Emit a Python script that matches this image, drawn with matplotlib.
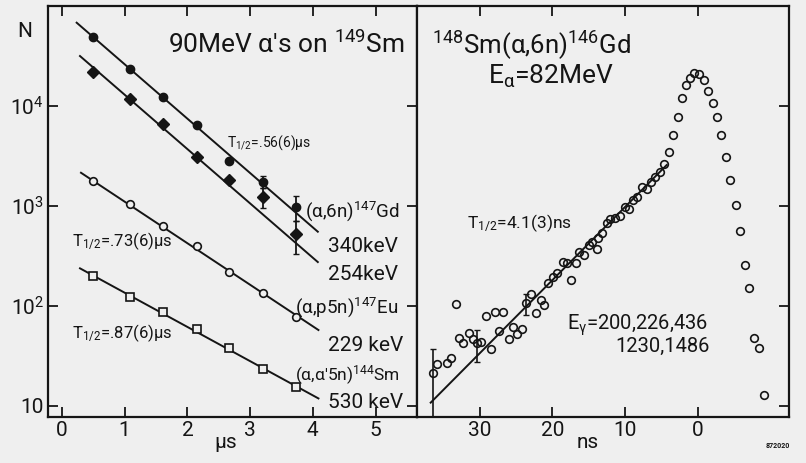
import matplotlib.pyplot as plt
from matplotlib.ticker import NullLocator

plt.rcParams['font.family'] = ['Roboto', 'DejaVu Sans']
plt.rcParams['mathtext.fontset'] = 'custom'
plt.rcParams['mathtext.rm'] = 'Roboto'
plt.rcParams['mathtext.it'] = 'Roboto'
plt.rcParams['mathtext.bf'] = 'Roboto'

W, H = 806, 463
ink = '#151515'
paper = '#efefef'

# left panel: isomer decay curves (time in microseconds)
t_us = [0.49, 1.08, 1.61, 2.15, 2.67, 3.21, 3.74]
gd340 = [49000, 23400, 12300, 6460, 2820, 1740, 985]
gd254 = [22000, 11700, 6600, 3110, 1820, 1230, 521]
eu229 = [1778, 1047, 631, 398, 220, 134, 77]
sm530 = [200, 124, 87, 59, 38, 23.6, 15.6]

# error bars on the last two points of the Gd curves
gd340_err = [234, 283]
gd254_err = [282, 190]

# fitted exponential lines (start, end)
fit340_t, fit340_n = [0.234, 4.08], [68100, 553]
fit254_t, fit254_n = [0.287, 4.08], [31600, 275]
fit229_t, fit229_n = [0.303, 4.09], [2150, 57.5]
fit530_t, fit530_n = [0.287, 4.09], [238, 11.9]

# right panel: time spectrum (ns, reversed axis)
ns = [36.36, 35.81, 34.48, 33.97, 33.28, 32.83, 32.24, 31.52, 30.91, 30.29,
      29.74, 29.12, 28.48, 27.82, 27.29, 26.72, 25.96, 25.37, 24.82, 24.15,
      23.56, 22.94, 22.29, 21.63, 21.09, 20.54, 19.88, 19.37, 18.54, 18.04,
      17.47, 16.80, 16.35, 15.66, 15.01, 14.52, 13.91, 13.80, 13.23, 12.54,
      12.09, 11.40, 10.71, 10.07, 9.48, 8.89, 8.34, 7.69, 7.05, 6.46,
      5.84, 5.22, 4.64, 4.02, 3.46, 2.79, 2.24, 1.69, 1.14, 0.51,
      -0.14, -0.82, -1.41, -2.06, -2.65, -3.20, -3.85, -4.44, -5.22, -5.81,
      -6.46, -7.05, -7.73, -8.34, -9.07]
counts = [21.5, 26.3, 27.2, 30.4, 104, 48.2, 43.0, 54.1, 47.1, 42.7,
          44.0, 79.1, 36.9, 87.5, 56.2, 87.5, 46.5, 62.1, 51.9, 58.9,
          106, 133, 84.5, 114, 102, 170, 197, 216, 275, 272,
          182, 272, 343, 326, 403, 432, 370, 481, 533, 671,
          736, 759, 794, 984, 927, 1148, 1239, 1538, 1472, 1750,
          1941, 2203, 2612, 3428, 5129, 7709, 11940, 16220, 19050, 21230,
          20890, 18070, 14220, 10640, 7709, 5129, 3112, 1820, 1016, 566,
          255, 152, 47.9, 38.0, 13.0]
err_ns = [36.36, 30.29, 23.56]
err_counts = [21.5, 42.7, 106]
err_size = [15.4, 15.0, 25]
fit_ns, fit_counts = [36.72, 4.30], [10.8, 2570]

fig = plt.figure(figsize=(W / 100, H / 100), dpi=100, facecolor=paper)
ax1 = fig.add_axes([48 / W, 46 / H, 368.7 / W, 411 / H], facecolor=paper)
ax2 = fig.add_axes([416.7 / W, 46 / H, 372.6 / W, 411 / H], facecolor=paper, sharey=ax1)

lw = 1.4
for a, b in [(fit340_t, fit340_n), (fit254_t, fit254_n), (fit229_t, fit229_n), (fit530_t, fit530_n)]:
    ax1.plot(a, b, color=ink, lw=lw)

ax1.errorbar(t_us[5:], gd340[5:], yerr=gd340_err, fmt='none', ecolor=ink, elinewidth=1.3, capsize=2.5)
ax1.errorbar(t_us[5:], gd254[5:], yerr=gd254_err, fmt='none', ecolor=ink, elinewidth=1.3, capsize=2.5)
ax1.plot(t_us, gd340, 'o', color=ink, ms=6)
ax1.plot(t_us, gd254, 'D', color=ink, ms=6)
ax1.plot(t_us, eu229, 'o', color=ink, mfc=paper, ms=5.5, mew=1.2)
ax1.plot(t_us, sm530, 's', color=ink, mfc=paper, ms=5.5, mew=1.2)

ax1.set_yscale('log')
ax1.set_ylim(7.76, 1e5)
ax1.set_xlim(-0.223, 5.657)
ax1.set_xticks([0, 1, 2, 3, 4, 5])
ax1.set_yticks([10, 100, 1000, 10000])
ax1.set_yticklabels(['10', '$10^2$', '$10^3$', '$10^4$'])
ax1.yaxis.set_minor_locator(NullLocator())
ax1.tick_params(direction='in', length=7, width=1.3, top=True, right=True,
                labelsize=15, colors=ink, pad=3)

ax2.plot(fit_ns, fit_counts, color=ink, lw=lw)
ax2.errorbar(err_ns, err_counts, yerr=err_size, fmt='none', ecolor=ink, elinewidth=1.2, capsize=2.5)
ax2.plot(ns, counts, 'o', color=ink, mfc='none', ms=5.5, mew=1.2)
ax2.set_xlim(38.64, -12.54)
ax2.set_xticks([30, 20, 10, 0])
ax2.yaxis.set_minor_locator(NullLocator())
ax2.tick_params(direction='in', length=7, width=1.3, top=True, right=True, left=False,
                labelleft=False, labelsize=15, colors=ink, pad=3)

for a in (ax1, ax2):
    for s in a.spines.values():
        s.set_linewidth(1.6)
        s.set_color(ink)


def put(x, y, s, size, ha='left', **kw):
    fig.text(x / W, 1 - y / H, s, fontsize=size, ha=ha, va='baseline', color=ink, **kw)


put(17, 37, 'N', 15)
put(168, 53, "90MeV α's on $^{149}$Sm", 19)
put(227, 147, 'T$_{1/2}$=.56(6)μs', 10)
put(305, 217, '(α,6n)$^{147}$Gd', 13.5)
put(328, 252, '340keV', 15)
put(328, 280, '254keV', 15)
put(72, 246, 'T$_{1/2}$=.73(6)μs', 12)
put(295, 313, '(α,p5n)$^{147}$Eu', 13.5)
put(328, 351, '229 keV', 15)
put(72, 338, 'T$_{1/2}$=.87(6)μs', 12)
put(295, 381, "(α,α'5n)$^{144}$Sm", 12.5)
put(328, 408, '530 keV', 15)
put(226, 448, 'μs', 15, ha='center')

put(432, 54, '$^{148}$Sm(α,6n)$^{146}$Gd', 18.5)
put(488, 84, 'E$_{α}$=82MeV', 19)
put(467, 228, 'T$_{1/2}$=4.1(3)ns', 12.5)
put(567, 330, 'E$_{γ}$=200,226,436', 14.5)
put(615, 352, '1230,1486', 14.5)
put(588, 448, 'ns', 15, ha='center')
put(790, 448, '872020', 5, ha='right', fontweight='bold')

fig.savefig('out.png', dpi=100, facecolor=paper)
